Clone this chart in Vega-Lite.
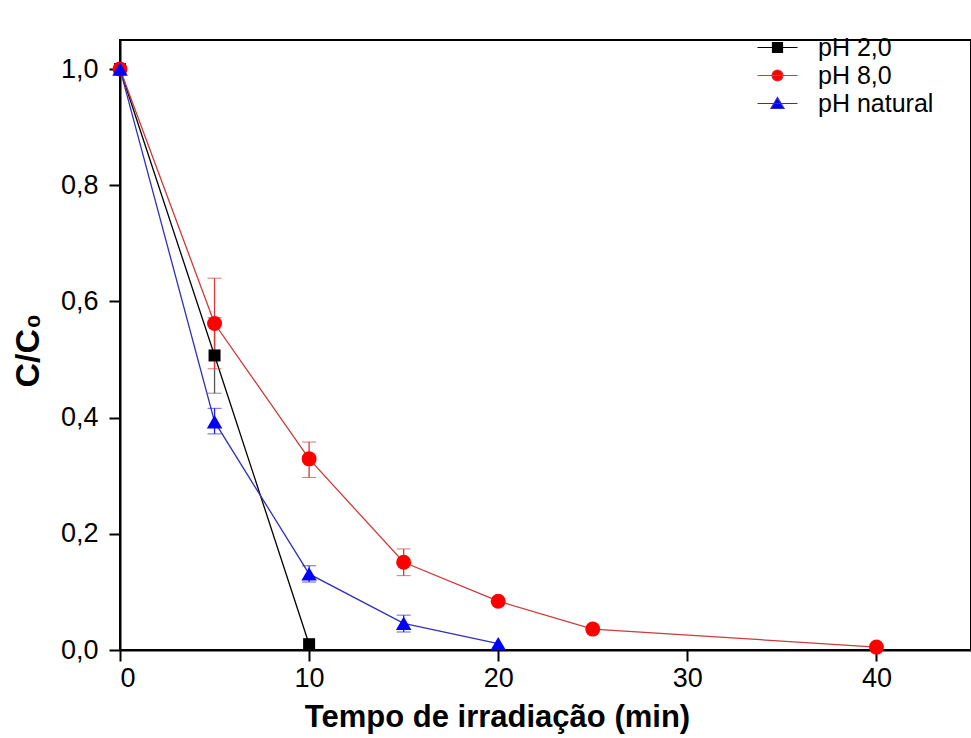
{
  "$schema": "https://vega.github.io/schema/vega-lite/v6.json",
  "width": 851,
  "height": 610,
  "autosize": {"type": "none"},
  "padding": {"left": 120, "top": 40, "right": 0, "bottom": 88},
  "background": "white",
  "config": {
    "view": {"stroke": "black", "strokeWidth": 2},
    "font": "Liberation Sans",
    "axis": {"labelFont": "Liberation Sans", "titleFont": "Liberation Sans"},
    "legend": {"labelFont": "Liberation Sans", "titleFont": "Liberation Sans"}
  },
  "data": {
    "values": [
      {"series": "pH 2,0", "t": 0, "v": 1.0},
      {"series": "pH 2,0", "t": 5, "v": 0.507, "lo": 0.442, "hi": 0.572},
      {"series": "pH 2,0", "t": 10, "v": 0.01},
      {"series": "pH 8,0", "t": 0, "v": 1.0},
      {"series": "pH 8,0", "t": 5, "v": 0.562, "lo": 0.484, "hi": 0.64},
      {"series": "pH 8,0", "t": 10, "v": 0.329, "lo": 0.297, "hi": 0.358},
      {"series": "pH 8,0", "t": 15, "v": 0.151, "lo": 0.128, "hi": 0.174},
      {"series": "pH 8,0", "t": 20, "v": 0.084},
      {"series": "pH 8,0", "t": 25, "v": 0.036},
      {"series": "pH 8,0", "t": 40, "v": 0.005},
      {"series": "pH natural", "t": 0, "v": 1.0},
      {"series": "pH natural", "t": 5, "v": 0.393, "lo": 0.372, "hi": 0.416},
      {"series": "pH natural", "t": 10, "v": 0.131, "lo": 0.117, "hi": 0.145},
      {"series": "pH natural", "t": 15, "v": 0.046, "lo": 0.031, "hi": 0.06},
      {"series": "pH natural", "t": 20, "v": 0.011}
    ]
  },
  "encoding": {
    "x": {
      "field": "t", "type": "quantitative",
      "scale": {"domain": [0, 45], "nice": false},
      "axis": {
        "values": [0, 10, 20, 30, 40], "grid": false,
        "title": "Tempo de irradiação (min)",
        "domainColor": "black", "domainWidth": 2,
        "tickColor": "black", "tickWidth": 2, "tickSize": 11,
        "labelFont": "Liberation Sans", "labelFontSize": 27, "labelColor": "black", "labelPadding": 4,
        "titleFont": "Liberation Sans", "titleFontSize": 31, "titleFontWeight": "bold", "titleColor": "black",
        "titleX": 377, "titleY": 76, "titleBaseline": "alphabetic"
      }
    },
    "y": {
      "field": "v", "type": "quantitative",
      "scale": {"domain": [0, 1.05], "nice": false},
      "axis": {
        "values": [0, 0.2, 0.4, 0.6, 0.8, 1.0], "grid": false,
        "labelExpr": "replace(format(datum.value, '.1f'), '.', ',')",
        "title": "C/C₀",
        "domainColor": "black", "domainWidth": 2,
        "tickColor": "black", "tickWidth": 2, "tickSize": 11,
        "labelFont": "Liberation Sans", "labelFontSize": 27, "labelColor": "black", "labelPadding": 11,
        "titleFont": "Liberation Sans", "titleFontSize": 34, "titleFontWeight": "bold", "titleColor": "black",
        "titleX": -92, "titleY": 310, "titleAngle": -90, "titleAlign": "center", "titleBaseline": "middle"
      }
    }
  },
  "layer": [
    {
      "transform": [{"filter": "datum.series === 'pH 2,0'"}],
      "mark": {"type": "line", "stroke": "#000000", "strokeWidth": 1.3}
    },
    {
      "transform": [{"filter": "datum.series === 'pH 8,0'"}],
      "mark": {"type": "line", "stroke": "#cc3a3a", "strokeWidth": 1.3}
    },
    {
      "transform": [{"filter": "datum.series === 'pH natural'"}],
      "mark": {"type": "line", "stroke": "#3030b8", "strokeWidth": 1.3}
    },
    {
      "transform": [{"filter": "datum.series === 'pH 2,0' && isValid(datum.lo)"}],
      "mark": {"type": "errorbar", "color": "#555555", "ticks": {"size": 14, "strokeWidth": 1.3}, "rule": {"strokeWidth": 1.3}},
      "encoding": {"y": {"field": "lo", "type": "quantitative"}, "y2": {"field": "hi"}}
    },
    {
      "transform": [{"filter": "datum.series === 'pH 8,0' && isValid(datum.lo)"}],
      "mark": {"type": "errorbar", "color": "#cc3a3a", "ticks": {"size": 14, "strokeWidth": 1.3}, "rule": {"strokeWidth": 1.3}},
      "encoding": {"y": {"field": "lo", "type": "quantitative"}, "y2": {"field": "hi"}}
    },
    {
      "transform": [{"filter": "datum.series === 'pH natural' && isValid(datum.lo)"}],
      "mark": {"type": "errorbar", "color": "#2020ee", "ticks": {"size": 14, "strokeWidth": 1.3}, "rule": {"strokeWidth": 1.3}},
      "encoding": {"y": {"field": "lo", "type": "quantitative"}, "y2": {"field": "hi"}}
    },
    {
      "transform": [{"filter": "datum.series === 'pH 2,0'"}],
      "mark": {"type": "point", "shape": "square", "filled": true, "fill": "#000000", "opacity": 1, "size": 144}
    },
    {
      "transform": [{"filter": "datum.series === 'pH 8,0'"}],
      "mark": {"type": "point", "shape": "circle", "filled": true, "fill": "#ff0000", "opacity": 1, "size": 225}
    },
    {
      "transform": [{"filter": "datum.series === 'pH natural'"}],
      "mark": {"type": "point", "shape": "triangle-up", "filled": true, "fill": "#0000ff", "opacity": 1, "size": 240}
    },
    {
      "transform": [{"filter": "datum.t < 0"}],
      "mark": {"type": "point", "filled": true, "opacity": 1, "size": 196, "strokeWidth": 1.2},
      "encoding": {
        "fill": {
          "field": "series", "type": "nominal", "title": null,
          "scale": {"domain": ["pH 2,0", "pH 8,0", "pH natural"], "range": ["#000000", "#ff0000", "#0000ff"]},
          "legend": {
            "orient": "none", "legendX": 645, "legendY": -5, "padding": 0,
            "labelFontSize": 25, "labelColor": "black", "labelOffset": 28, "rowPadding": 2,
            "symbolStrokeWidth": 1.2, "symbolOpacity": 1
          }
        },
        "stroke": {
          "field": "series", "type": "nominal", "title": null,
          "scale": {"domain": ["pH 2,0", "pH 8,0", "pH natural"], "range": ["#000000", "#cc3a3a", "#3030b8"]},
          "legend": {
            "orient": "none", "legendX": 645, "legendY": -5, "padding": 0,
            "labelFontSize": 25, "labelColor": "black", "labelOffset": 28, "rowPadding": 2,
            "symbolStrokeWidth": 1.2, "symbolOpacity": 1
          }
        },
        "shape": {
          "field": "series", "type": "nominal", "title": null,
          "scale": {"domain": ["pH 2,0", "pH 8,0", "pH natural"], "range": [
            "M-4,0H4M-1,-1H1V1H-1Z",
            "M-4,0H4M1.1,0A1.1,1.1 0 1,1 -1.1,0A1.1,1.1 0 1,1 1.1,0Z",
            "M-4,0H4M0,-1.2L1.3,1L-1.3,1Z"
          ]},
          "legend": {
            "orient": "none", "legendX": 645, "legendY": -5, "padding": 0,
            "labelFontSize": 25, "labelColor": "black", "labelOffset": 28, "rowPadding": 2,
            "symbolStrokeWidth": 1.2, "symbolOpacity": 1
          }
        }
      }
    }
  ]
}
